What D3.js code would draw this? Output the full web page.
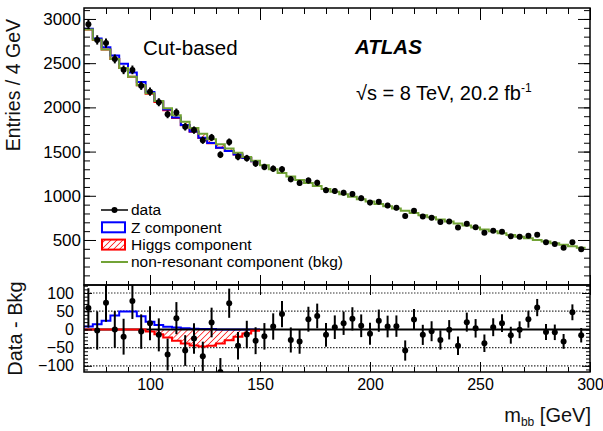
<!DOCTYPE html>
<html>
<head>
<meta charset="utf-8">
<script src="https://cdn.jsdelivr.net/npm/d3@7"></script>
<style>
  body { margin: 0; background: #fff; }
  text { font-family: "Liberation Sans", Arial, Helvetica, sans-serif; }
</style>
</head>
<body>
<div id="vis"></div>
<script>
// ---- data (4 GeV bins starting at 70 GeV) ----
let binStart = 70
let binWidth = 4

// observed entries per bin
let dataCounts = [2939, 2763, 2728, 2548, 2425, 2424, 2245, 2177, 2058, 1921,
    1943, 1780, 1743, 1628, 1659, 1465, 1608, 1441, 1425, 1364,
    1326, 1307, 1299, 1188, 1146, 1172, 1147, 1063, 1053, 1035,
    1019, 972, 923, 932, 890, 865, 772, 832, 765, 751,
    703, 708, 641, 683, 644, 581, 604, 594, 541, 537,
    547, 560, 475, 456, 413, 475, 395]

// non-resonant background fit
let bkgCounts = [2880, 2766, 2655, 2548, 2445, 2346, 2251, 2160, 2073, 1990,
    1912, 1838, 1768, 1702, 1640, 1582, 1536, 1486, 1439, 1395,
    1345, 1299, 1257, 1217, 1179, 1144, 1110, 1078, 1047, 1018,
    990, 962, 935, 908, 882, 856, 830, 805, 780, 756,
    732, 709, 686, 663, 641, 619, 598, 577, 557, 538,
    519, 500, 482, 464, 446, 428, 411]

// Z and Higgs components (70-150 GeV)
let zComp = [8, 14, 24, 38, 49, 49, 36, 21, 12, 7, 5, 3, 2, 1, 1, 0, 0, 0, 0, 0]
let higgsComp = [0, 0, 0, 0, 0, 0, 0, -6, -13, -22, -31, -39, -44, -47, -45, -39, -30, -20, -11, -4]

// ticks
let xMajor = [100, 150, 200, 250, 300]
let yTopMajor = [500, 1000, 1500, 2000, 2500, 3000]
let yBotMajor = [-100, -50, 0, 50, 100]
let yBotGrid = [-100, -50, 50, 100]

let legendItems = ["data", "Z component", "Higgs component", "non-resonant component (bkg)"]

// ---- layout ----
let svgWidth = 603
let svgHeight = 431
let left = 84, right = 590
let topY0 = 8, topY1 = 285
let botY0 = 285, botY1 = 372

let green = "#72a336"
let font = "'Liberation Sans', Arial, sans-serif"

let svg = d3.select('#vis')
    .append('svg')
    .attr('width', svgWidth)
    .attr('height', svgHeight)

// scales
let xScale = d3.scaleLinear().domain([70, 300]).range([left, right])
let yTop = d3.scaleLinear().domain([-9, 3124]).range([topY1, topY0])
let yBot = d3.scaleLinear().domain([-117, 122]).range([botY1, botY0])

let residuals = dataCounts.map((d, i) => d - bkgCounts[i])
let binLo = i => binStart + i * binWidth
let binMid = i => binStart + (i + 0.5) * binWidth

// defs: hatch + clips
let defs = svg.append('defs')
let hatch = defs.append('pattern')
    .attr('id', 'hatch')
    .attr('patternUnits', 'userSpaceOnUse')
    .attr('width', 4.2).attr('height', 4.2)
    .attr('patternTransform', 'rotate(45)')
hatch.append('line')
    .attr('x1', 0).attr('y1', 0).attr('x2', 0).attr('y2', 4.2)
    .attr('stroke', 'red').attr('stroke-width', 1.4)

defs.append('clipPath').attr('id', 'clipTop')
    .append('rect').attr('x', left).attr('y', topY0).attr('width', right - left).attr('height', topY1 - topY0)
defs.append('clipPath').attr('id', 'clipBot')
    .append('rect').attr('x', left).attr('y', botY0).attr('width', right - left).attr('height', botY1 - botY0)

// step helpers
function stepPoints(vals, f) {
    let pts = vals.map((v, i) => [binLo(i), f(v, i)])
    pts.push([binLo(vals.length), f(vals[vals.length - 1], vals.length - 1)])
    return pts
}
function stepLine(yScale) {
    return d3.line().x(d => xScale(d[0])).y(d => yScale(d[1])).curve(d3.curveStepAfter)
}

// ================= top panel =================
let topG = svg.append('g').attr('clip-path', 'url(#clipTop)')

let higgsTop = higgsComp.map((h, i) => [binLo(i), bkgCounts[i], bkgCounts[i] + h])
higgsTop.push([binLo(higgsComp.length), bkgCounts[higgsComp.length - 1], bkgCounts[higgsComp.length - 1] + higgsComp[higgsComp.length - 1]])
topG.append('path')
    .attr('d', d3.area().x(d => xScale(d[0])).y0(d => yTop(d[1])).y1(d => yTop(d[2])).curve(d3.curveStepAfter)(higgsTop))
    .attr('fill', 'url(#hatch)')

topG.append('path')
    .attr('d', stepLine(yTop)(stepPoints(higgsComp, (h, i) => bkgCounts[i] + h)))
    .attr('fill', 'none').attr('stroke', 'red').attr('stroke-width', 2)

topG.append('path')
    .attr('d', stepLine(yTop)(stepPoints(zComp, (z, i) => bkgCounts[i] + z + higgsComp[i])))
    .attr('fill', 'none').attr('stroke', 'blue').attr('stroke-width', 2)

topG.append('path')
    .attr('d', stepLine(yTop)(stepPoints(bkgCounts, v => v)))
    .attr('fill', 'none').attr('stroke', green).attr('stroke-width', 2)

// data points
let topPts = topG.selectAll('g.pt')
    .data(dataCounts)
    .join('g').attr('class', 'pt')
topPts.append('line')
    .attr('x1', (d, i) => xScale(binMid(i))).attr('x2', (d, i) => xScale(binMid(i)))
    .attr('y1', d => yTop(d - Math.sqrt(d))).attr('y2', d => yTop(d + Math.sqrt(d)))
    .attr('stroke', 'black').attr('stroke-width', 2)
topPts.append('circle')
    .attr('cx', (d, i) => xScale(binMid(i)))
    .attr('cy', d => yTop(d))
    .attr('r', 3)
    .attr('fill', 'black')

// ================= bottom panel =================
let botG = svg.append('g').attr('clip-path', 'url(#clipBot)')

botG.selectAll('line.grid')
    .data(yBotGrid)
    .join('line').attr('class', 'grid')
    .attr('x1', left).attr('x2', right)
    .attr('y1', d => yBot(d)).attr('y2', d => yBot(d))
    .attr('stroke', '#333').attr('stroke-width', 1.2)
    .attr('stroke-dasharray', '1.5,1.5')

let higgsBot = higgsComp.map((h, i) => [binLo(i), h])
higgsBot.push([binLo(higgsComp.length), higgsComp[higgsComp.length - 1]])
botG.append('path')
    .attr('d', d3.area().x(d => xScale(d[0])).y0(yBot(0)).y1(d => yBot(d[1])).curve(d3.curveStepAfter)(higgsBot))
    .attr('fill', 'url(#hatch)')

botG.append('path')
    .attr('d', stepLine(yBot)(stepPoints(zComp, z => z)))
    .attr('fill', 'none').attr('stroke', 'blue').attr('stroke-width', 2)

botG.append('line')
    .attr('x1', left).attr('x2', right)
    .attr('y1', yBot(0)).attr('y2', yBot(0))
    .attr('stroke', 'black').attr('stroke-width', 2)

botG.append('path')
    .attr('d', stepLine(yBot)(stepPoints(higgsComp, h => h)))
    .attr('fill', 'none').attr('stroke', 'red').attr('stroke-width', 2)

let botPts = botG.selectAll('g.rpt')
    .data(residuals)
    .join('g').attr('class', 'rpt')
botPts.append('line')
    .attr('x1', (d, i) => xScale(binMid(i))).attr('x2', (d, i) => xScale(binMid(i)))
    .attr('y1', (d, i) => yBot(d - Math.sqrt(dataCounts[i])))
    .attr('y2', (d, i) => yBot(d + Math.sqrt(dataCounts[i])))
    .attr('stroke', 'black').attr('stroke-width', 2)
botPts.append('circle')
    .attr('cx', (d, i) => xScale(binMid(i)))
    .attr('cy', d => yBot(d))
    .attr('r', 3)
    .attr('fill', 'black')

// ================= axes (ticks inside, ROOT style) =================
function styleAxis(g, size) {
    g.select('.domain').remove()
    g.selectAll('line').attr('stroke', 'black').attr('stroke-width', 1)
    g.attr('font-family', font).attr('font-size', size)
    g.selectAll('text').attr('fill', 'black')
}

// top panel axes
svg.append('g').attr('transform', `translate(${left},0)`)
    .call(d3.axisLeft(yTop).tickValues(d3.range(100, 3101, 100)).tickSize(-6).tickFormat(''))
    .call(g => styleAxis(g, 17))
svg.append('g').attr('transform', `translate(${left},0)`)
    .call(d3.axisLeft(yTop).tickValues(yTopMajor).tickSize(-12).tickPadding(3).tickFormat(d3.format('d')))
    .call(g => styleAxis(g, 17))
svg.append('g').attr('transform', `translate(${right},0)`)
    .call(d3.axisRight(yTop).tickValues(d3.range(100, 3101, 100)).tickSize(-6).tickFormat(''))
    .call(g => styleAxis(g, 17))
svg.append('g').attr('transform', `translate(${right},0)`)
    .call(d3.axisRight(yTop).tickValues(yTopMajor).tickSize(-12).tickFormat(''))
    .call(g => styleAxis(g, 17))
svg.append('g').attr('transform', `translate(0,${topY0})`)
    .call(d3.axisTop(xScale).tickValues(d3.range(80, 301, 10)).tickSize(-6).tickFormat(''))
    .call(g => styleAxis(g, 17))
svg.append('g').attr('transform', `translate(0,${topY0})`)
    .call(d3.axisTop(xScale).tickValues(xMajor).tickSize(-12).tickFormat(''))
    .call(g => styleAxis(g, 17))
svg.append('g').attr('transform', `translate(0,${topY1})`)
    .call(d3.axisBottom(xScale).tickValues(d3.range(80, 301, 10)).tickSize(-4).tickFormat(''))
    .call(g => styleAxis(g, 17))
svg.append('g').attr('transform', `translate(0,${topY1})`)
    .call(d3.axisBottom(xScale).tickValues(xMajor).tickSize(-10).tickFormat(''))
    .call(g => styleAxis(g, 17))

// bottom panel axes
svg.append('g').attr('transform', `translate(${left},0)`)
    .call(d3.axisLeft(yBot).tickValues(d3.range(-110, 121, 10)).tickSize(-4).tickFormat(''))
    .call(g => styleAxis(g, 16))
svg.append('g').attr('transform', `translate(${left},0)`)
    .call(d3.axisLeft(yBot).tickValues(yBotMajor).tickSize(-8).tickPadding(10))
    .call(g => styleAxis(g, 16))
svg.append('g').attr('transform', `translate(${right},0)`)
    .call(d3.axisRight(yBot).tickValues(d3.range(-110, 121, 10)).tickSize(-4).tickFormat(''))
    .call(g => styleAxis(g, 16))
svg.append('g').attr('transform', `translate(${right},0)`)
    .call(d3.axisRight(yBot).tickValues(yBotMajor).tickSize(-8).tickFormat(''))
    .call(g => styleAxis(g, 16))
svg.append('g').attr('transform', `translate(0,${botY0})`)
    .call(d3.axisTop(xScale).tickValues(d3.range(80, 301, 10)).tickSize(-5).tickFormat(''))
    .call(g => styleAxis(g, 16))
svg.append('g').attr('transform', `translate(0,${botY0})`)
    .call(d3.axisTop(xScale).tickValues(xMajor).tickSize(-10).tickFormat(''))
    .call(g => styleAxis(g, 16))
svg.append('g').attr('transform', `translate(0,${botY1})`)
    .call(d3.axisBottom(xScale).tickValues(d3.range(80, 301, 10)).tickSize(-5).tickFormat(''))
    .call(g => styleAxis(g, 16))
svg.append('g').attr('transform', `translate(0,${botY1})`)
    .call(d3.axisBottom(xScale).tickValues(xMajor).tickSize(-10).tickPadding(7))
    .call(g => styleAxis(g, 16))

// frames
svg.append('rect').attr('x', left).attr('y', topY0).attr('width', right - left).attr('height', topY1 - topY0)
    .attr('fill', 'none').attr('stroke', 'black').attr('stroke-width', 1.5)
svg.append('rect').attr('x', left).attr('y', botY0).attr('width', right - left).attr('height', botY1 - botY0)
    .attr('fill', 'none').attr('stroke', 'black').attr('stroke-width', 1.5)

// ================= labels =================
svg.append('text')
    .attr('transform', 'translate(20,19) rotate(-90)')
    .attr('text-anchor', 'end')
    .attr('font-size', 19.5)
    .attr('fill', '#111')
    .text('Entries / 4 GeV')

svg.append('text')
    .attr('transform', `translate(22,${(botY0 + botY1) / 2}) rotate(-90)`)
    .attr('text-anchor', 'middle')
    .attr('font-size', 20)
    .attr('fill', '#111')
    .text('Data - Bkg')

let xTitle = svg.append('text')
    .attr('x', 591).attr('y', 422)
    .attr('text-anchor', 'end')
    .attr('font-size', 20)
    .attr('fill', '#111')
xTitle.append('tspan').text('m')
xTitle.append('tspan').attr('font-size', 12).attr('dy', 4).text('bb')
xTitle.append('tspan').attr('dy', -4).text(' [GeV]')

svg.append('text')
    .attr('x', 143).attr('y', 55)
    .attr('font-size', 20.5)
    .text('Cut-based')

svg.append('text')
    .attr('x', 355).attr('y', 54)
    .attr('font-size', 20.5)
    .attr('font-weight', 'bold')
    .attr('font-style', 'italic')
    .text('ATLAS')

let lumi = svg.append('text')
    .attr('x', 356).attr('y', 100)
    .attr('font-size', 20)
lumi.append('tspan').text('\u221As = 8 TeV, 20.2 fb')
lumi.append('tspan').attr('font-size', 12).attr('dy', -8).text('-1')

// ================= legend =================
let legY = [210, 227.3, 244.6, 262]
let legG = svg.append('g')

legG.append('line').attr('x1', 101).attr('x2', 128).attr('y1', legY[0]).attr('y2', legY[0])
    .attr('stroke', 'black').attr('stroke-width', 1.5)
legG.append('circle').attr('cx', 114.5).attr('cy', legY[0]).attr('r', 3).attr('fill', 'black')

legG.append('rect').attr('x', 102).attr('y', legY[1] - 5).attr('width', 23).attr('height', 10)
    .attr('fill', 'white').attr('stroke', 'blue').attr('stroke-width', 2)

legG.append('rect').attr('x', 102).attr('y', legY[2] - 5).attr('width', 23).attr('height', 10)
    .attr('fill', 'url(#hatch)').attr('stroke', 'red').attr('stroke-width', 2)

legG.append('line').attr('x1', 101).attr('x2', 128).attr('y1', legY[3]).attr('y2', legY[3])
    .attr('stroke', green).attr('stroke-width', 2)

legG.selectAll('text')
    .data(legendItems)
    .join('text')
    .attr('x', 131)
    .attr('y', (d, i) => legY[i])
    .attr('dy', '0.35em')
    .attr('font-size', 15.5)
    .text(d => d)
</script>
</body>
</html>
